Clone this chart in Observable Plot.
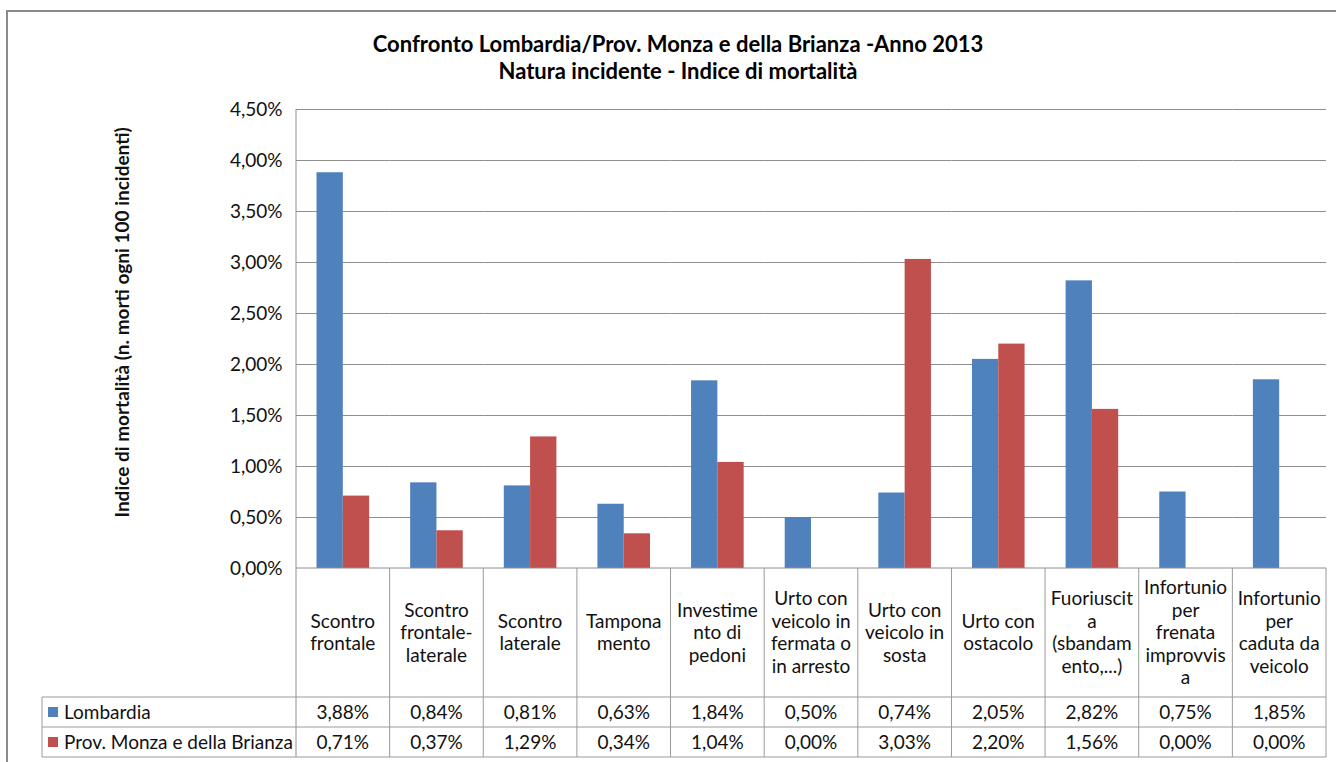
<!DOCTYPE html>
<html>
<head>
<meta charset="utf-8">
<script src="https://cdn.jsdelivr.net/npm/d3@7"></script>
<script src="https://cdn.jsdelivr.net/npm/@observablehq/plot@0.6"></script>
<style>
  html, body { margin: 0; padding: 0; background: #fff; }
  #wrap { position: relative; width: 1336px; height: 762px; overflow: hidden; font-family: Lato, "Open Sans", sans-serif; }
  #frame { position: absolute; left: 6px; top: 10px; width: 1400px; height: 900px; border: 2px solid #8a8a8a; box-sizing: border-box; }
  #title { position: absolute; left: 0; width: 1356px; top: 30px; text-align: center; font-weight: bold; font-size: 22px; line-height: 27px; color: #000; }
  #chart { position: absolute; left: 0; top: 0; }
</style>
</head>
<body>
<div id="wrap">
  <div id="frame"></div>
  <div id="chart"></div>
  <div id="title">Confronto Lombardia/Prov. Monza e della Brianza -Anno 2013<br>Natura incidente - Indice di mortalità</div>
</div>
<script>
const categories = [
  "Scontro\nfrontale",
  "Scontro\nfrontale-\nlaterale",
  "Scontro\nlaterale",
  "Tampona\nmento",
  "Investime\nnto di\npedoni",
  "Urto con\nveicolo in\nfermata o\nin arresto",
  "Urto con\nveicolo in\nsosta",
  "Urto con\nostacolo",
  "Fuoriuscit\na\n(sbandam\nento,...)",
  "Infortunio\nper\nfrenata\nimprovvis\na",
  "Infortunio\nper\ncaduta da\nveicolo"
];
const series = ["Lombardia", "Prov. Monza e della Brianza"];
const lombardia = [3.88, 0.84, 0.81, 0.63, 1.84, 0.50, 0.74, 2.05, 2.82, 0.75, 1.85];
const monza     = [0.71, 0.37, 1.29, 0.34, 1.04, 0.00, 3.03, 2.20, 1.56, 0.00, 0.00];
const colors = ["#4F81BD", "#C0504D"];
const yTicks = [0, 0.5, 1, 1.5, 2, 2.5, 3, 3.5, 4, 4.5];
const yLabel = "Indice di mortalità (n. morti ogni 100 incidenti)";

const fmt = d => d.toFixed(2).replace(".", ",") + "%";

const rows = categories.flatMap((c, i) => [
  {cat: c, series: series[0], value: lombardia[i]},
  {cat: c, series: series[1], value: monza[i]}
]);

const W = 1336, H = 762, ML = 296, MR = 10, MT = 109, MB = 194;
const FONT = "Lato, 'Open Sans', sans-serif";

const chart = Plot.plot({
  width: W, height: H,
  marginLeft: ML, marginRight: MR, marginTop: MT, marginBottom: MB,
  facet: {data: rows, x: "cat"},
  fx: {domain: categories, padding: 0, round: false, axis: null, label: null},
  x: {domain: series, paddingInner: 0, paddingOuter: 0.78, round: false, axis: null, label: null},
  y: {domain: [0, 4.5], ticks: yTicks, tickFormat: fmt, tickSize: 0, tickPadding: 14, label: null},
  color: {domain: series, range: colors},
  style: {fontFamily: FONT, fontSize: "19px", color: "#111", background: "transparent", overflow: "visible"},
  marks: [
    Plot.ruleY(yTicks.filter(d => d > 0), {stroke: "#8e8e8e", strokeWidth: 1}),
    Plot.barY(rows, {x: "series", y: "value", fill: "series"})
  ]
});
document.getElementById("chart").appendChild(chart);

// Scales from the chart
let fxDesc = null, yDesc = null;
try { fxDesc = chart.scale("fx"); } catch (e) {}
try { yDesc = chart.scale("y"); } catch (e) {}
const fx = d3.scaleBand(categories, fxDesc ? fxDesc.range : [ML, W - MR]).padding(0);
const y = d3.scaleLinear(yDesc ? yDesc.domain : [0, 4.5], yDesc ? yDesc.range : [H - MB, MT]);

const svg = d3.select(chart);
const g = svg.append("g").attr("font-family", FONT).attr("font-size", 19).attr("fill", "#111").attr("text-anchor", "start");
const lineColor = "#9a9a9a";
const y0 = y(0);
const headerBottom = 697, rowH = 30;
const tableLeft = 42;
const xStart = fx.range()[0], xEnd = fx.range()[1];

// axis + table lines
g.append("line").attr("x1", xStart).attr("x2", xStart).attr("y1", y(4.5)).attr("y2", headerBottom + 2 * rowH).attr("stroke", "#8e8e8e");
g.append("line").attr("x1", xStart).attr("x2", xEnd).attr("y1", y0).attr("y2", y0).attr("stroke", "#8e8e8e");
[headerBottom, headerBottom + rowH, headerBottom + 2 * rowH].forEach(yy => {
  g.append("line").attr("x1", tableLeft).attr("x2", xEnd).attr("y1", yy).attr("y2", yy).attr("stroke", lineColor);
});
g.append("line").attr("x1", tableLeft).attr("x2", tableLeft).attr("y1", headerBottom).attr("y2", headerBottom + 2 * rowH).attr("stroke", lineColor);
categories.forEach(c => {
  const xr = fx(c) + fx.bandwidth();
  g.append("line").attr("x1", xr).attr("x2", xr).attr("y1", y0).attr("y2", headerBottom + 2 * rowH).attr("stroke", lineColor);
});

// header labels
const lh = 22.5;
const headerMid = (y0 + headerBottom) / 2;
categories.forEach(c => {
  const lines = c.split("\n");
  const t = g.append("text").attr("text-anchor", "middle");
  const cx = fx(c) + fx.bandwidth() / 2;
  lines.forEach((ln, k) => {
    t.append("tspan").attr("x", cx)
      .attr("y", headerMid + (k - (lines.length - 1) / 2) * lh)
      .attr("dy", "0.35em").text(ln);
  });
});

// value rows
const vals = [lombardia, monza];
series.forEach((s, r) => {
  const cy = headerBottom + rowH * r + rowH / 2;
  g.append("rect").attr("x", 48).attr("y", cy - 5).attr("width", 10).attr("height", 10).attr("fill", colors[r]);
  g.append("text").attr("text-anchor", "start").attr("x", 64).attr("y", cy).attr("dy", "0.35em").text(s);
  categories.forEach((c, i) => {
    g.append("text").attr("text-anchor", "middle")
      .attr("x", fx(c) + fx.bandwidth() / 2).attr("y", cy).attr("dy", "0.35em")
      .text(fmt(vals[r][i]));
  });
});

// y axis title
g.append("text").attr("transform", `translate(122,${(y(4.5) + y0) / 2 - 16}) rotate(-90)`)
  .attr("text-anchor", "middle").attr("dy", "0.35em").attr("font-weight", "bold").attr("font-size", 19).text(yLabel);
</script>
</body>
</html>
